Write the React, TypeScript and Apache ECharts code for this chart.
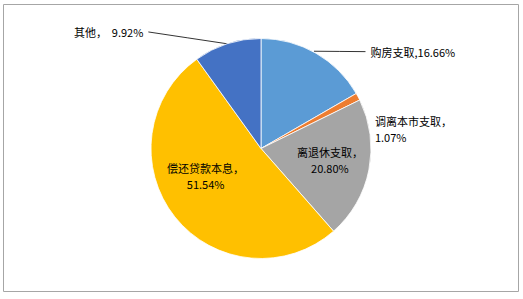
import React, { useEffect, useRef } from "react";
import * as echarts from "echarts";

const categories = ["购房支取", "调离本市支取", "离退休支取", "偿还贷款本息", "其他"];
const values = [16.66, 1.07, 20.8, 51.54, 9.92];
const colors = ["#5B9BD5", "#ED7D31", "#A5A5A5", "#FFC000", "#4472C4"];
const separators = [",", "，\n", "，\n", "，\n", "，  "];
const positions = ["outside", "outside", "inside", "inside", "outside"];

export default function App() {
  const ref = useRef<HTMLDivElement>(null);
  useEffect(() => {
    if (!ref.current) return;
    const chart = echarts.init(ref.current, undefined, { renderer: "svg" });
    const font = "'Noto Sans CJK SC', sans-serif";
    chart.setOption({
      animation: false,
      backgroundColor: "#fff",
      graphic: [
        {
          type: "rect",
          shape: { x: 3.5, y: 4.5, width: 515, height: 287 },
          style: { fill: "none", stroke: "#A6A6A6", lineWidth: 1 },
          silent: true,
        },
      ],
      series: [
        {
          type: "pie",
          center: [261, 148.5],
          radius: 110,
          startAngle: 90,
          clockwise: true,
          avoidLabelOverlap: false,
          itemStyle: { borderColor: "#fff", borderWidth: 0.8 },
          label: {
            color: "#000",
            fontFamily: font,
            fontSize: 11,
            lineHeight: 16,
            align: "center",
          },
          labelLine: {
            lineStyle: { color: "#000", width: 0.8 },
          },
          data: categories.map((name, i) => ({
            name,
            value: values[i],
            itemStyle: { color: colors[i] },
            label: {
              position: positions[i],
              formatter: `${name}${separators[i]}${values[i].toFixed(2)}%`,
            },
            labelLine:
              i === 0
                ? { show: true, length: 3, length2: 48 }
                : i === 4
                ? { show: true, length: 3, length2: 78 }
                : { show: false, length: 18, length2: 0 },
          })),
          labelLayout: (params: any) => {
            if (params.dataIndex === 1) return { dx: -4, dy: 41 };
            if (params.dataIndex === 2) return { dx: 12, dy: 0 };
            if (params.dataIndex === 3) return { dx: -10, dy: -9 };
            if (params.dataIndex === 4) {
              const pts = params.labelLinePoints;
              if (pts && pts.length === 3) {
                const end = [pts[2][0], pts[2][1] - 9];
                const mid = [(pts[0][0] + end[0]) / 2, (pts[0][1] + end[1]) / 2];
                return { dy: -9, labelLinePoints: [pts[0], mid, end] };
              }
              return { dy: -9 };
            }
            if (params.dataIndex === 0) {
              const pts = params.labelLinePoints;
              if (pts && pts.length === 3) {
                const start = [pts[0][0] - 2, pts[0][1] - 2];
                const end = [pts[2][0], pts[2][1] + 1];
                const mid = [(start[0] + end[0]) / 2, (start[1] + end[1]) / 2];
                return { dy: 1, labelLinePoints: [start, mid, end] };
              }
            }
            return {};
          },
        },
      ],
    });
    return () => chart.dispose();
  }, []);
  return (
    <div
      ref={ref}
      style={{ position: "absolute", left: 0, top: 0, width: 523, height: 299 }}
    />
  );
}
